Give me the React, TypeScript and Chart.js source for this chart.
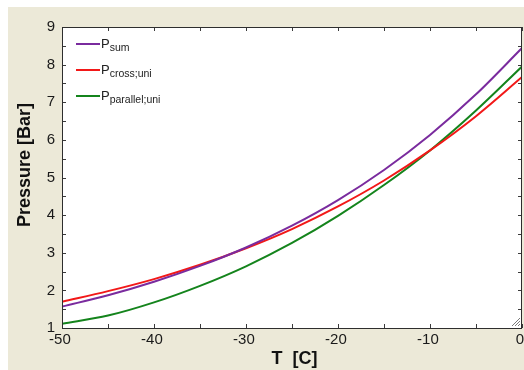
import React, { useEffect, useRef } from "react";
import { Chart, registerables } from "chart.js";

Chart.register(...registerables);

const temps = [-50, -45, -40, -35, -30, -25, -20, -15, -10, -5, 0];
const pSum = [1.57, 1.87, 2.23, 2.65, 3.14, 3.72, 4.4, 5.2, 6.13, 7.21, 8.44];
const pCross = [1.7, 1.98, 2.3, 2.68, 3.12, 3.63, 4.23, 4.92, 5.72, 6.63, 7.67];
const pParallel = [1.11, 1.33, 1.68, 2.12, 2.64, 3.26, 3.98, 4.8, 5.72, 6.78, 7.95];

const xTicks = [-50, -40, -30, -20, -10, 0];
const yTicks = [1, 2, 3, 4, 5, 6, 7, 8, 9];

const seriesNames = ["sum", "cross;uni", "parallel;uni"];
const seriesColors = ["#7a2b9e", "#f21818", "#14841c"];

const FONT = "'Liberation Sans', Arial, sans-serif";

const framePlugin = {
  id: "frame",
  beforeDatasetsDraw(chart: any) {
    const { ctx, chartArea: a } = chart;
    ctx.save();
    ctx.fillStyle = "#ffffff";
    ctx.fillRect(a.left, a.top, a.right - a.left, a.bottom - a.top);
    ctx.restore();
  },
  afterDatasetsDraw(chart: any) {
    const { ctx, chartArea: a, scales } = chart;
    const xs = scales.x;
    const ys = scales.y;
    ctx.save();
    ctx.strokeStyle = "#3a3a3a";
    ctx.lineWidth = 1;
    ctx.beginPath();
    for (let v = -50; v <= 0; v += 5) {
      const px = Math.round(xs.getPixelForValue(v)) + 0.5;
      ctx.moveTo(px, a.bottom);
      ctx.lineTo(px, a.bottom - 4);
      ctx.moveTo(px, a.top);
      ctx.lineTo(px, a.top + 4);
    }
    for (let v = 1; v <= 9; v += 0.5) {
      const py = Math.round(ys.getPixelForValue(v)) + 0.5;
      ctx.moveTo(a.left, py);
      ctx.lineTo(a.left + 4, py);
      ctx.moveTo(a.right, py);
      ctx.lineTo(a.right - 4, py);
    }
    ctx.stroke();
    ctx.strokeStyle = "#2e2e2e";
    ctx.strokeRect(
      Math.round(a.left) + 0.5,
      Math.round(a.top) + 0.5,
      Math.round(a.right - a.left) - 1,
      Math.round(a.bottom - a.top)
    );
    ctx.strokeStyle = "#7a7a7a";
    ctx.beginPath();
    for (let i = 0; i < 3; i++) {
      const o = 3 + i * 3;
      ctx.moveTo(a.right - 2, a.bottom - o - 1);
      ctx.lineTo(a.right - o - 1, a.bottom - 2);
    }
    ctx.stroke();
    ctx.restore();
  },
};

export default function App() {
  const ref = useRef<HTMLCanvasElement>(null);

  useEffect(() => {
    if (!ref.current) return;
    const mk = (vals: number[]) => temps.map((t, i) => ({ x: t, y: vals[i] }));
    const chart = new Chart(ref.current, {
      type: "line",
      data: {
        datasets: [pSum, pCross, pParallel].map((vals, i) => ({
          label: "P" + seriesNames[i],
          data: mk(vals),
          borderColor: seriesColors[i],
          backgroundColor: seriesColors[i],
          borderWidth: 2,
          pointRadius: 0,
          cubicInterpolationMode: "monotone" as const,
          fill: false,
        })),
      },
      options: {
        responsive: false,
        animation: false,
        layout: { padding: { top: 20, right: 2, left: 0, bottom: 0 } },
        plugins: { legend: { display: false }, tooltip: { enabled: false } },
        scales: {
          x: {
            type: "linear",
            min: -50,
            max: 0,
            afterBuildTicks: (s: any) => {
              s.ticks = xTicks.map((v) => ({ value: v }));
            },
            afterFit: (s: any) => {
              s.height = 42;
              s.paddingLeft = 0;
              s.paddingRight = 0;
            },
            grid: { display: false, drawTicks: false },
            border: { display: false },
            ticks: {
              padding: 3,
              autoSkip: false,
              color: "#1a1a1a",
              font: { family: FONT, size: 15 },
              maxRotation: 0,
              callback: (v: any) => String(v) + " ",
            },
            title: {
              display: true,
              text: " T  [C]",
              color: "#111",
              font: { family: FONT, size: 18, weight: "bold" },
              padding: { top: 0, bottom: 0 },
            },
          },
          y: {
            type: "linear",
            min: 1,
            max: 9,
            afterBuildTicks: (s: any) => {
              s.ticks = yTicks.map((v) => ({ value: v }));
            },
            afterFit: (s: any) => {
              s.width = 54;
              s.paddingTop = 0;
              s.paddingBottom = 0;
            },
            grid: { display: false, drawTicks: false },
            border: { display: false },
            ticks: {
              padding: 7,
              autoSkip: false,
              color: "#1a1a1a",
              font: { family: FONT, size: 15 },
            },
            title: {
              display: true,
              text: "     Pressure [Bar]",
              color: "#111",
              font: { family: FONT, size: 18, weight: "bold" },
              padding: { top: 6, bottom: 0 },
            },
          },
        },
      },
      plugins: [framePlugin],
    });
    return () => chart.destroy();
  }, []);

  const legendTop = [37, 63, 89];

  return (
    <div
      style={{
        position: "fixed",
        left: 8,
        top: 7,
        width: 516,
        height: 363,
        background: "#ece9d8",
        overflow: "hidden",
      }}
    >
      <canvas ref={ref} width={516} height={363} style={{ display: "block" }} />
      {seriesNames.map((n, i) => (
        <div
          key={n}
          style={{
            position: "absolute",
            left: 68,
            top: legendTop[i] - 9,
            height: 18,
            display: "flex",
            alignItems: "center",
            fontFamily: FONT,
            color: "#222",
            whiteSpace: "nowrap",
          }}
        >
          <span style={{ display: "inline-block", width: 24, height: 2, background: seriesColors[i] }} />
          <span style={{ fontSize: 13, lineHeight: "18px", marginLeft: 1 }}>
            P
            <span style={{ fontSize: 10.5, position: "relative", top: 3 }}>{n}</span>
          </span>
        </div>
      ))}
    </div>
  );
}
